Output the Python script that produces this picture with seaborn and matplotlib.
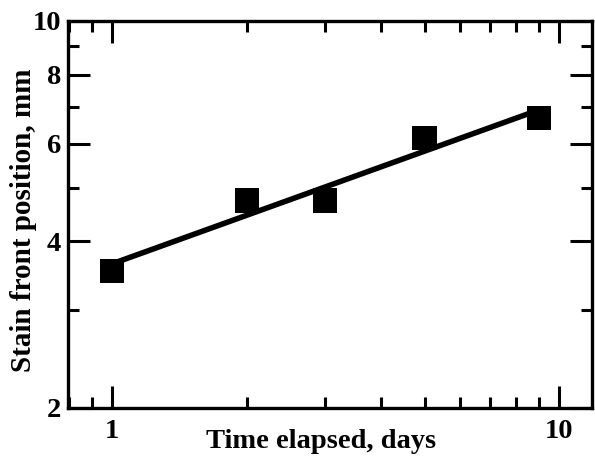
import numpy as np
import pandas as pd
import matplotlib
matplotlib.use("Agg")
import matplotlib.pyplot as plt
import matplotlib.ticker as mticker
import seaborn as sns

# ---------------------------------
# Data
# ---------------------------------

time_days = [1, 2, 3, 5, 9]

stain_front_mm = [3.54, 4.74, 4.74, 6.15, 6.69]

x_tick_labels = ["1", "10"]

y_tick_labels = ["2", "4", "6", "8", "10"]

# ---------------------------------
# Configuration
# ---------------------------------

FIG_SIZE = (5.95, 4.63)

DPI = 100

FONT = ["Liberation Serif", "DejaVu Serif"]

OUT_PATH = "out.png"

# ---------------------------------
# Power law fit (log-log straight line)
# ---------------------------------

def power_fit(x, y):

    slope, intercept = np.polyfit(
        np.log10(x),
        np.log10(y),
        1
    )

    x_fit = np.array([min(x), max(x)], dtype=float)

    y_fit = 10 ** (intercept + slope * np.log10(x_fit))

    return pd.DataFrame({"x": x_fit, "y": y_fit})

# ---------------------------------
# Plot
# ---------------------------------

def make_plot():

    sns.set_style("ticks")

    plt.rcParams["font.family"] = FONT
    plt.rcParams["font.weight"] = "bold"
    plt.rcParams["text.color"] = "black"
    plt.rcParams["axes.labelcolor"] = "black"
    plt.rcParams["xtick.labelcolor"] = "black"
    plt.rcParams["ytick.labelcolor"] = "black"

    df = pd.DataFrame({
        "time": time_days,
        "stain": stain_front_mm
    })

    fit = power_fit(time_days, stain_front_mm)

    fig = plt.figure(figsize=FIG_SIZE, dpi=DPI)

    ax = fig.add_axes([0.1143, 0.1188, 0.8807, 0.8359])

    ax.set_xscale("log")
    ax.set_yscale("log")

    sns.lineplot(
        data=fit,
        x="x",
        y="y",
        color="black",
        linewidth=4,
        ax=ax,
        zorder=2
    )

    sns.scatterplot(
        data=df,
        x="time",
        y="stain",
        marker="s",
        s=300,
        color="black",
        edgecolor="none",
        ax=ax,
        zorder=3
    )

    ax.set_xlim(0.797, 11.85)
    ax.set_ylim(2, 10)

    # x ticks
    ax.xaxis.set_major_locator(mticker.FixedLocator([1, 10]))
    ax.xaxis.set_major_formatter(mticker.FixedFormatter(x_tick_labels))
    ax.xaxis.set_minor_locator(
        mticker.LogLocator(base=10, subs=np.arange(2, 10) / 1.0)
    )
    ax.xaxis.set_minor_formatter(mticker.NullFormatter())

    # y ticks
    ax.yaxis.set_major_locator(mticker.FixedLocator([2, 4, 6, 8, 10]))
    ax.yaxis.set_major_formatter(mticker.FixedFormatter(y_tick_labels))
    ax.yaxis.set_minor_locator(mticker.FixedLocator([3, 5, 7, 9]))
    ax.yaxis.set_minor_formatter(mticker.NullFormatter())

    ax.tick_params(
        which="both",
        direction="in",
        top=True,
        right=True,
        width=2.2,
        color="black",
        labelcolor="black"
    )
    ax.tick_params(which="major", length=16, labelsize=20.5)
    ax.tick_params(axis="x", which="major", pad=8)
    ax.tick_params(axis="y", which="major", pad=5)
    ax.tick_params(which="minor", length=8)

    for spine in ax.spines.values():
        spine.set_linewidth(2.4)
        spine.set_color("black")

    for lbl in ax.get_xticklabels() + ax.get_yticklabels():
        lbl.set_fontweight("bold")

    ax.set_xlabel("Time elapsed, days", fontsize=20.5, fontweight="bold")
    ax.set_ylabel("Stain front position, mm", fontsize=21, fontweight="bold")

    ax.xaxis.set_label_coords(0.482, -0.055)
    ax.yaxis.set_label_coords(-0.06, 0.4845)

    fig.savefig(OUT_PATH, dpi=DPI)


if __name__ == "__main__":

    make_plot()
